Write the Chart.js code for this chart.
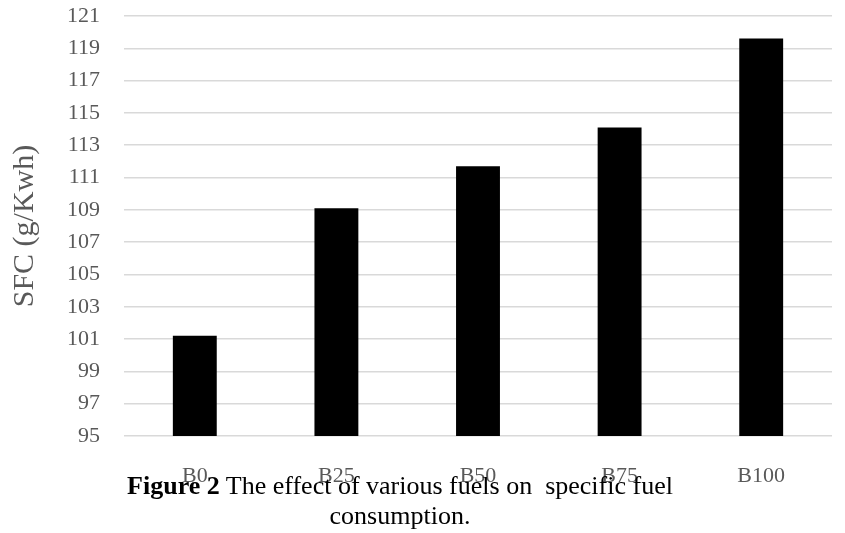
<!DOCTYPE html>
<html>
<head>
<meta charset="utf-8">
<script src="https://cdn.jsdelivr.net/npm/chart.js@4/dist/chart.umd.min.js"></script>
<style>
  html, body { margin: 0; padding: 0; background: #ffffff; }
  #wrap { position: relative; width: 845px; height: 533px; }
  #chart { position: absolute; left: 0; top: 0; }
  .caption {
    position: absolute; left: 0; width: 800px; text-align: center;
    font-family: "Liberation Serif", "Times New Roman", serif;
    font-size: 26px; color: #000; white-space: pre; line-height: 30px;
  }
</style>
</head>
<body>
<div id="wrap">
  <canvas id="chart" width="845" height="533"></canvas>
  <div class="caption" style="top:471px"><b>Figure 2</b> The effect of various fuels on  specific fuel</div>
  <div class="caption" style="top:501px">consumption.</div>
</div>
<script>
// Fuel blends and their specific fuel consumption
const fuels = ['B0', 'B25', 'B50', 'B75', 'B100'];
const sfcValues = [101.2, 109.1, 111.7, 114.1, 119.6];
const yMin = 95;
const yMax = 121;
const yStep = 2;
const yTitle = 'SFC (g/Kwh)';

const serif = '"Liberation Serif", "Times New Roman", serif';

new Chart(document.getElementById('chart'), {
  type: 'bar',
  data: {
    labels: fuels,
    datasets: [{
      data: sfcValues,
      backgroundColor: '#000000',
      borderWidth: 0,
      categoryPercentage: 1.0,
      barPercentage: 0.31
    }]
  },
  options: {
    responsive: false,
    animation: false,
    layout: { padding: { top: 16, right: 13, bottom: 0, left: 0 } },
    plugins: { legend: { display: false }, tooltip: { enabled: false } },
    scales: {
      x: {
        grid: { display: false },
        border: { display: false },
        ticks: { color: '#595959', font: { family: serif, size: 22 }, padding: 19 },
        afterFit: (s) => { s.height = 97; }
      },
      y: {
        min: yMin,
        max: yMax,
        grid: { color: '#d9d9d9', lineWidth: 1.5, drawTicks: false },
        border: { display: false },
        ticks: {
          stepSize: yStep,
          color: '#595959',
          font: { family: serif, size: 22 },
          padding: 24
        },
        title: {
          display: true,
          text: yTitle,
          color: '#595959',
          font: { family: serif, size: 30 },
          padding: { top: 7, bottom: 0 }
        },
        // fixed axis width; top/bottom room comes from the layout padding
        afterFit: (s) => { s.width = 124; s.paddingTop = 0; s.paddingBottom = 0; }
      }
    }
  }
});
</script>
</body>
</html>
